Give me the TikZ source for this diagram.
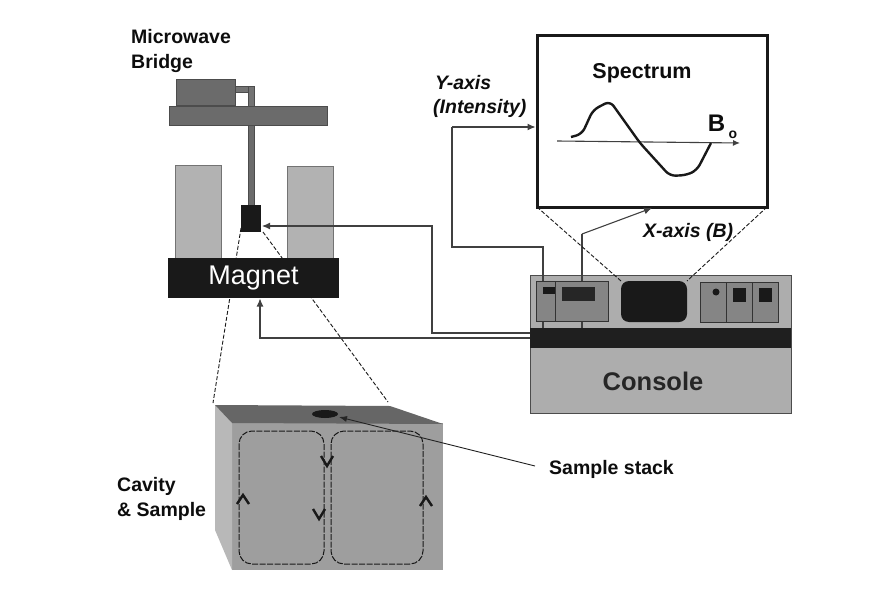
\documentclass[tikz,border=0pt]{standalone}
\usepackage{fontspec}
\setmainfont{Liberation Sans}
\usetikzlibrary{arrows.meta,shapes.geometric}
\tikzset{
  partbox/.style={inner sep=0pt, outer sep=0pt},
  lbl/.style={inner sep=0pt, font=\fontsize{19.5}{25}\selectfont\bfseries, text=black!95, align=left},
  lblit/.style={lbl, font=\fontsize{19.5}{25}\selectfont\bfseries\itshape},
  wire/.style={draw=black!75, line width=1.1pt},
  wirearrow/.style={wire, -{Latex[length=8pt,width=7pt]}},
  zoomline/.style={draw=black!90, line width=.9pt, dash pattern=on 4pt off 2pt},
  fieldline/.style={draw=black!90, line width=1pt, dash pattern=on 6pt off 1.5pt, rounded corners=13pt},
  chevron/.style={draw=black!90, line width=2.4pt}
}
\begin{document}
\begin{tikzpicture}[x=1pt,y=-1pt]
    \useasboundingbox (0,0) rectangle (869,607);

    % cavity and sample
    \coordinate (ctl) at (215,405);
    \coordinate (ctr) at (390,406);
    \coordinate (cfl) at (232,423);
    \coordinate (cfr) at (443,424);
    \path [fill=black!38] (232,423) rectangle (443,570);
    \path [fill=black!28] (ctl) -- (cfl) -- (232,570) -- (215,530) -- cycle;
    \path [fill=black!60] (ctl) -- (ctr) -- (cfr) -- (cfl) -- cycle;
    \node [partbox, ellipse, fill=black!90, minimum width=26pt, minimum height=8pt] (sampledot) at (325,414) {};
    \draw [fieldline] (239,431) rectangle (324,564);
    \draw [fieldline] (331,431) rectangle (423,564);
    \draw [chevron] (237,504) -- (243,495) -- (249,504);
    \draw [chevron] (420,506) -- (426,497) -- (432,506);
    \draw [chevron] (321,456) -- (327,466) -- (333,456);
    \draw [chevron] (313,509) -- (319,519) -- (325,509);

    % magnet and bridge
    \draw [zoomline] (241,228) -- (213,403);
    \draw [zoomline] (263,232) -- (388,402);
    \path [draw=black!55, fill=black!30] (175,165) rectangle (221,258);
    \path [draw=black!55, fill=black!30] (287,166) rectangle (333,258);
    \node [partbox, fill=black!90, text=white, minimum width=171pt, minimum height=40pt, font=\fontsize{27}{30}\selectfont] (magnet) at (253.5,278) {Magnet};
    \path [draw=black!70, fill=black!55] (235,86) rectangle (254,92);
    \path [draw=black!70, fill=black!55] (248,86) rectangle (254,106);
    \path [draw=black!70, fill=black!58] (248,125) rectangle (254,205);
    \path [draw=black!70, fill=black!58] (176,79) rectangle (235,105);
    \path [draw=black!70, fill=black!58] (169,106) rectangle (327,125);
    \node [partbox, fill=black!90, minimum width=20pt, minimum height=27pt] (probe) at (251,218.5) {};

    \node [lbl, anchor=west] (bridgelbl) at (131,51) {Microwave\\Bridge};

    % spectrum window
    \node [partbox, draw=black!90, line width=3pt, fill=white, minimum width=230pt, minimum height=171pt] (spectrum) at (652,121.5) {};
    \node [lbl, font=\fontsize{21.5}{25}\selectfont\bfseries] (spectrumlbl) at (642,73) {Spectrum};
    \coordinate (axisstart) at (557,141);
    \coordinate (axisend) at (740,143);
    \draw [wire, -{Latex[length=7pt,width=6pt]}] (axisstart) -- (axisend);
    \draw [draw=black!90, line width=2.4pt, rounded corners=6pt] (571,137) -- (582,134) -- (593,110) -- (610,101) -- (640,143) -- (670,176) -- (687,175) -- (697,170) -- (711,143);
    \node [lbl, font=\fontsize{24}{25}\selectfont\bfseries] (bzero) at (716.5,123) {B};
    \node [lbl, font=\fontsize{14}{16}\selectfont\bfseries] (bzerosub) at (733,135) {o};
    \node [lblit, anchor=west] (yaxislbl) at (435,83) {Y-axis};
    \node [lblit, anchor=west] (intensitylbl) at (433,108) {(Intensity)};
    \node [lblit, anchor=west] (xaxislbl) at (643,232) {X-axis (B)};

    % console
    \node [partbox, draw=black!70, fill=black!32, minimum width=261pt, minimum height=138pt] (console) at (660.5,344) {};
    \coordinate (yout) at (543,328);
    \coordinate (xout) at (582,328);
    \coordinate (ybend) at (543,247);
    \coordinate (ybendl) at (452,247);
    \coordinate (ybendu) at (452,127);
    \coordinate (xbend) at (582,234);
    \coordinate (xin) at (652,208);
    \coordinate (yin) at (535.5,127);
    \draw [wire] (yout) -- (ybend) -- (ybendl) -- (ybendu);
    \draw [wirearrow] (ybendu) -- (yin);
    \draw [wire] (xout) -- (xbend);
    \draw [wirearrow] (xbend) -- (xin);
    \path [draw=black!80, fill=black!48] (536,281) rectangle (608,321);
    \draw [draw=black!80] (555,281) -- (555,321);
    \path [fill=black!90] (543,287) rectangle (555,294);
    \path [fill=black!85] (562,287) rectangle (595,301);
    \path [draw=black!80, fill=black!48] (700,282) rectangle (778,322);
    \draw [draw=black!80] (726,282) -- (726,322);
    \draw [draw=black!80] (752,282) -- (752,322);
    \path [fill=black!90] (716,292) circle (3.5pt);
    \path [fill=black!90] (733,288) rectangle (746,302);
    \path [fill=black!90] (759,288) rectangle (772,302);
    \node [partbox, fill=black!90, rounded corners=8pt, minimum width=66pt, minimum height=41pt] (screen) at (654,301.5) {};
    \draw [zoomline] (spectrum.south west) -- (screen.north west);
    \draw [zoomline] (spectrum.south east) -- (screen.north east);
    \node [partbox, fill=black!88, minimum width=261pt, minimum height=20pt] (band) at (660.5,338) {};
    \node [lbl, font=\fontsize{25.5}{30}\selectfont\bfseries, text=black!85] (consolelbl) at (653,381) {Console};

    % connections to probe, magnet and sample
    \coordinate (probein) at (262,226);
    \coordinate (probebend) at (432,226);
    \coordinate (probebendd) at (432,333);
    \coordinate (probeout) at (530,333);
    \coordinate (magnetin) at (260,298.5);
    \coordinate (magnetbend) at (260,338);
    \coordinate (magnetout) at (530,338);
    \draw [wire, -{Latex[length=8pt,width=7pt]}] (probeout) -- (probebendd) -- (probebend) -- (probein);
    \draw [wire, -{Latex[length=8pt,width=7pt]}] (magnetout) -- (magnetbend) -- (magnetin);
    \node [lbl, anchor=west] (samplelbl) at (549,469) {Sample stack};
    \coordinate (samplefree) at (535,466);
    \coordinate (samplein) at (339,417);
    \draw [draw=black!85, line width=.9pt, -{Latex[length=8pt,width=6pt]}] (samplefree) -- (samplein);
    \node [lbl, anchor=west] (cavitylbl) at (117,498.5) {Cavity\\\& Sample};
\end{tikzpicture}
\end{document}
